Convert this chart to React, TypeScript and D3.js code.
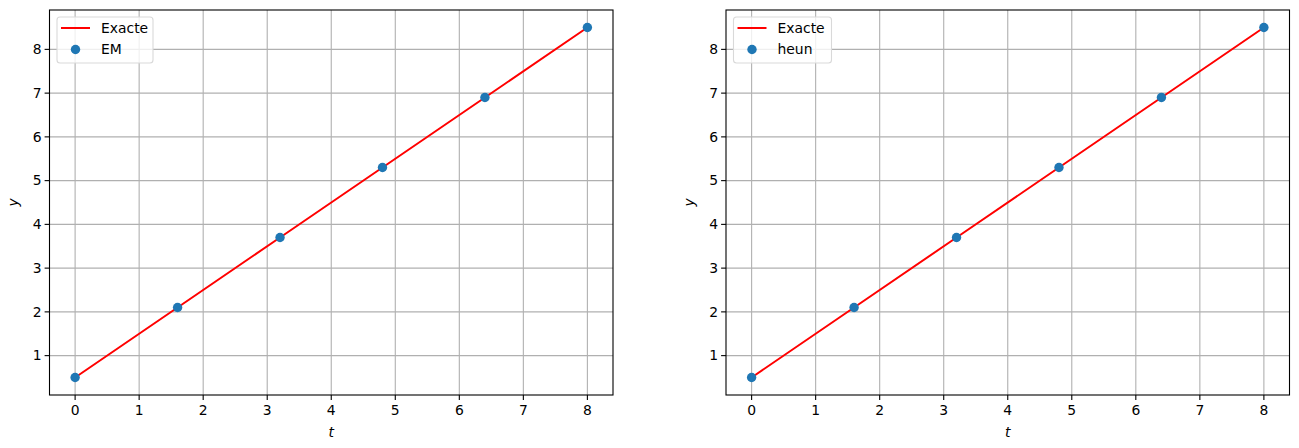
import { useEffect, useRef } from "react";
import * as d3 from "d3";

// sample points of the numerical schemes
const tSteps = [0, 1.6, 3.2, 4.8, 6.4, 8];
const emValues = [0.5, 2.1, 3.7, 5.3, 6.9, 8.5];
const heunValues = [0.5, 2.1, 3.7, 5.3, 6.9, 8.5];

// exact solution
const exactT = [0, 1.6, 3.2, 4.8, 6.4, 8];
const exactY = [0.5, 2.1, 3.7, 5.3, 6.9, 8.5];

const xTicks = [0, 1, 2, 3, 4, 5, 6, 7, 8];
const yTicks = [1, 2, 3, 4, 5, 6, 7, 8];

const panels = [
  { left: 49.5, label: "EM", values: emValues },
  { left: 726, label: "heun", values: heunValues },
];

const WIDTH = 1299;
const HEIGHT = 448;
const FONT = "DejaVu Sans, sans-serif";

export default function App() {
  const ref = useRef<SVGSVGElement | null>(null);

  useEffect(() => {
    if (!ref.current) return;
    const svg = d3.select(ref.current);
    svg.selectAll("*").remove();

    const top = 10;
    const bottom = 395;
    const w = 563.5;

    panels.forEach((p) => {
      const x = d3.scaleLinear().domain([-0.4, 8.4]).range([p.left, p.left + w]);
      const y = d3.scaleLinear().domain([0.1, 8.9]).range([bottom, top]);
      const g = svg.append("g");

      // grid
      g.selectAll(".gx")
        .data(xTicks)
        .join("line")
        .attr("x1", (d) => x(d))
        .attr("x2", (d) => x(d))
        .attr("y1", top)
        .attr("y2", bottom)
        .attr("stroke", "#b0b0b0")
        .attr("stroke-width", 1.1);
      g.selectAll(".gy")
        .data(yTicks)
        .join("line")
        .attr("x1", p.left)
        .attr("x2", p.left + w)
        .attr("y1", (d) => y(d))
        .attr("y2", (d) => y(d))
        .attr("stroke", "#b0b0b0")
        .attr("stroke-width", 1.1);

      // exact line
      const line = d3
        .line<number>()
        .x((_, i) => x(exactT[i]))
        .y((d) => y(d));
      g.append("path")
        .attr("d", line(exactY) || "")
        .attr("fill", "none")
        .attr("stroke", "red")
        .attr("stroke-width", 2);

      // points
      g.selectAll(".pt")
        .data(p.values)
        .join("circle")
        .attr("cx", (_, i) => x(tSteps[i]))
        .attr("cy", (d) => y(d))
        .attr("r", 4.7)
        .attr("fill", "#1f77b4");

      // frame
      g.append("rect")
        .attr("x", p.left)
        .attr("y", top)
        .attr("width", w)
        .attr("height", bottom - top)
        .attr("fill", "none")
        .attr("stroke", "black")
        .attr("stroke-width", 1.1);

      // x axis
      g.selectAll(".tx")
        .data(xTicks)
        .join("line")
        .attr("x1", (d) => x(d))
        .attr("x2", (d) => x(d))
        .attr("y1", bottom)
        .attr("y2", bottom + 4.9)
        .attr("stroke", "black")
        .attr("stroke-width", 1.1);
      g.selectAll(".lx")
        .data(xTicks)
        .join("text")
        .attr("x", (d) => x(d))
        .attr("y", bottom + 20)
        .attr("text-anchor", "middle")
        .attr("font-family", FONT)
        .attr("font-size", 13.9)
        .text((d) => String(d));

      // y axis
      g.selectAll(".ty")
        .data(yTicks)
        .join("line")
        .attr("x1", p.left - 4.9)
        .attr("x2", p.left)
        .attr("y1", (d) => y(d))
        .attr("y2", (d) => y(d))
        .attr("stroke", "black")
        .attr("stroke-width", 1.1);
      g.selectAll(".ly")
        .data(yTicks)
        .join("text")
        .attr("x", p.left - 8)
        .attr("y", (d) => y(d))
        .attr("dy", "0.35em")
        .attr("text-anchor", "end")
        .attr("font-family", FONT)
        .attr("font-size", 13.9)
        .text((d) => String(d));

      // axis labels
      g.append("text")
        .attr("x", p.left + w / 2)
        .attr("y", 437)
        .attr("text-anchor", "middle")
        .attr("font-family", FONT)
        .attr("font-style", "italic")
        .attr("font-size", 13.9)
        .text("t");
      g.append("text")
        .attr("transform", `translate(${p.left - 32},${(top + bottom) / 2}) rotate(-90)`)
        .attr("text-anchor", "middle")
        .attr("font-family", FONT)
        .attr("font-style", "italic")
        .attr("font-size", 13.9)
        .text("y");

      // legend
      const lx = p.left + 7.5;
      const lw = p.label === "EM" ? 96 : 98;
      const leg = g.append("g");
      leg.append("rect")
        .attr("x", lx)
        .attr("y", 17)
        .attr("width", lw)
        .attr("height", 46)
        .attr("rx", 3)
        .attr("fill", "white")
        .attr("fill-opacity", 0.8)
        .attr("stroke", "#d9d9d9")
        .attr("stroke-width", 1.1);
      leg.append("line")
        .attr("x1", lx + 4)
        .attr("x2", lx + 33)
        .attr("y1", 28)
        .attr("y2", 28)
        .attr("stroke", "red")
        .attr("stroke-width", 2);
      leg.append("circle")
        .attr("cx", lx + 18.5)
        .attr("cy", 49.5)
        .attr("r", 4.7)
        .attr("fill", "#1f77b4");
      leg.append("text")
        .attr("x", lx + 44)
        .attr("y", 28)
        .attr("dy", "0.35em")
        .attr("font-family", FONT)
        .attr("font-size", 13.9)
        .text("Exacte");
      leg.append("text")
        .attr("x", lx + 44)
        .attr("y", 49.5)
        .attr("dy", "0.35em")
        .attr("font-family", FONT)
        .attr("font-size", 13.9)
        .text(p.label);
    });
  }, []);

  return (
    <svg
      ref={ref}
      width={WIDTH}
      height={HEIGHT}
      style={{ position: "absolute", left: 0, top: 0, background: "white" }}
    />
  );
}
